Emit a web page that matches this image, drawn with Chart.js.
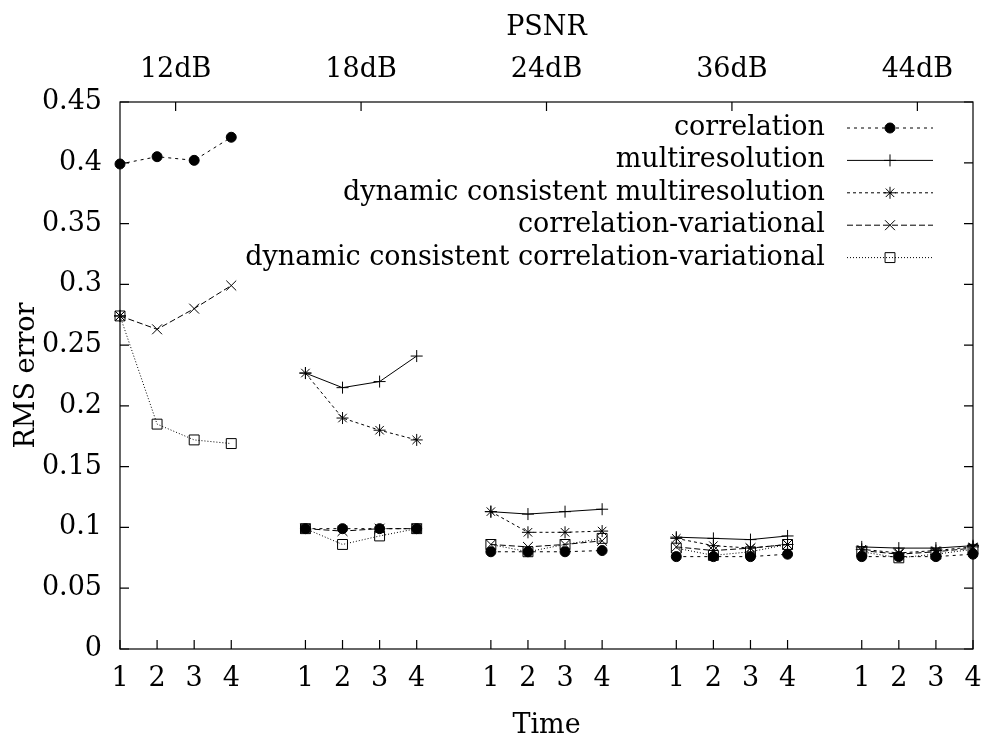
<!DOCTYPE html>
<html>
<head>
<meta charset="utf-8">
<script src="https://cdn.jsdelivr.net/npm/chart.js@4/dist/chart.umd.min.js"></script>
<style>
  html, body { margin: 0; padding: 0; background: #fff; }
  #wrap { width: 981px; height: 743px; }
</style>
</head>
<body>
<div id="wrap"><canvas id="chart" width="981" height="743"></canvas></div>
<script>
// values, one row per PSNR level, one entry per time step
const psnrLabels = ['12dB', '18dB', '24dB', '36dB', '44dB'];
const timeSteps = [1, 2, 3, 4];
const yTicks = [0, 0.05, 0.1, 0.15, 0.2, 0.25, 0.3, 0.35, 0.4, 0.45];

const correlation = [
    [0.399, 0.405, 0.402, 0.421],
    [0.099, 0.099, 0.099, 0.099],
    [0.080, 0.080, 0.080, 0.081],
    [0.076, 0.076, 0.076, 0.078],
    [0.076, 0.076, 0.076, 0.078]
];
const multiresolution = [
    [0.274, null, null, null],
    [0.227, 0.215, 0.220, 0.241],
    [0.113, 0.111, 0.113, 0.115],
    [0.092, 0.091, 0.090, 0.093],
    [0.084, 0.083, 0.083, 0.085]
];
const dynMultiresolution = [
    [0.274, null, null, null],
    [0.227, 0.190, 0.180, 0.172],
    [0.113, 0.096, 0.096, 0.097],
    [0.091, 0.085, 0.083, 0.086],
    [0.082, 0.079, 0.081, 0.084]
];
const corrVariational = [
    [0.274, 0.263, 0.280, 0.299],
    [0.099, 0.097, 0.099, 0.099],
    [0.086, 0.084, 0.086, 0.089],
    [0.084, 0.081, 0.083, 0.086],
    [0.081, 0.078, 0.080, 0.083]
];
const dynCorrVariational = [
    [0.274, 0.185, 0.172, 0.169],
    [0.099, 0.086, 0.093, 0.099],
    [0.086, 0.080, 0.086, 0.091],
    [0.083, 0.077, 0.080, 0.086],
    [0.080, 0.075, 0.078, 0.082]
];

// each PSNR group takes 5 units on the x axis: 4 time steps and one empty slot
const groupWidth = 5;
const timeTickValues = [];
psnrLabels.forEach((_, g) => timeSteps.forEach(t => timeTickValues.push(g * groupWidth + t)));
const psnrTickValues = psnrLabels.map((_, g) => g * groupWidth + 2.5);

function toPoints(rows) {
    const pts = [];
    rows.forEach((row, g) => {
        row.forEach((v, i) => pts.push({ x: g * groupWidth + timeSteps[i], y: v }));
        pts.push({ x: g * groupWidth + groupWidth, y: null });
    });
    return pts;
}

function series(label, rows, dash, style, radius, fill) {
    return {
        label: label,
        data: toPoints(rows),
        borderColor: '#000',
        borderWidth: 1,
        borderDash: dash,
        pointStyle: style,
        pointRadius: radius,
        pointHoverRadius: radius,
        pointBorderColor: '#000',
        pointBorderWidth: 1,
        pointBackgroundColor: fill,
        tension: 0,
        spanGaps: false,
        clip: false
    };
}

const datasets = [
    series('correlation', correlation, [3, 4], 'circle', 5, '#000'),
    series('multiresolution', multiresolution, [], 'cross', 6, '#000'),
    series('dynamic consistent multiresolution', dynMultiresolution, [3, 3], 'star', 6, '#000'),
    series('correlation-variational', corrVariational, [6, 3], 'crossRot', 7, '#000'),
    series('dynamic consistent correlation-variational', dynCorrVariational, [1, 2], 'rect', 7, 'rgba(0,0,0,0)')
];

// gnuplot style frame: border, inward ticks, key in the upper right
const framePlugin = {
    id: 'frame',
    afterDatasetsDraw(chart) {
        const { ctx, chartArea: a, scales } = chart;
        ctx.save();
        ctx.strokeStyle = '#000';
        ctx.lineWidth = 1.2;
        ctx.setLineDash([]);
        ctx.strokeRect(a.left, a.top, a.right - a.left, a.bottom - a.top);
        ctx.beginPath();
        scales.x.ticks.forEach(t => {
            const px = scales.x.getPixelForValue(t.value);
            ctx.moveTo(px, a.bottom);
            ctx.lineTo(px, a.bottom - 9);
        });
        scales.x2.ticks.forEach(t => {
            const px = scales.x2.getPixelForValue(t.value);
            ctx.moveTo(px, a.top);
            ctx.lineTo(px, a.top + 9);
        });
        scales.y.ticks.forEach(t => {
            const py = scales.y.getPixelForValue(t.value);
            ctx.moveTo(a.left, py);
            ctx.lineTo(a.left + 9, py);
            ctx.moveTo(a.right, py);
            ctx.lineTo(a.right - 9, py);
        });
        ctx.stroke();

        const textRight = a.right - 148;
        const lineStart = a.right - 126;
        const lineEnd = a.right - 40;
        const mid = (lineStart + lineEnd) / 2;
        ctx.font = Chart.defaults.font.size + 'px ' + Chart.defaults.font.family;
        ctx.fillStyle = '#000';
        ctx.textAlign = 'right';
        ctx.textBaseline = 'middle';
        chart.data.datasets.forEach((ds, i) => {
            const y = a.top + 26 + i * 32.4;
            ctx.fillText(ds.label, textRight, y);
            ctx.save();
            ctx.lineWidth = ds.borderWidth;
            ctx.setLineDash(ds.borderDash);
            ctx.beginPath();
            ctx.moveTo(lineStart, y);
            ctx.lineTo(lineEnd, y);
            ctx.stroke();
            ctx.setLineDash([]);
            ctx.fillStyle = ds.pointBackgroundColor;
            ctx.strokeStyle = ds.pointBorderColor;
            ctx.lineWidth = ds.pointBorderWidth;
            Chart.helpers.drawPoint(ctx, {
                pointStyle: ds.pointStyle,
                radius: ds.pointRadius,
                rotation: 0,
                borderWidth: ds.pointBorderWidth
            }, mid, y);
            ctx.restore();
        });
        ctx.restore();
    }
};

Chart.defaults.font.family = "'DejaVu Serif', serif";
Chart.defaults.font.size = 27;
Chart.defaults.color = '#000';

new Chart(document.getElementById('chart'), {
    type: 'line',
    data: { datasets: datasets },
    options: {
        responsive: false,
        animation: false,
        events: [],
        layout: { padding: { left: 0, right: 8, top: 0, bottom: 0 } },
        plugins: {
            legend: { display: false },
            tooltip: { enabled: false }
        },
        scales: {
            x: {
                type: 'linear',
                position: 'bottom',
                min: 1,
                max: 24,
                afterBuildTicks: (scale) => { scale.ticks = timeTickValues.map(v => ({ value: v })); },
                afterFit: (scale) => { scale.height = 94; scale.paddingLeft = 0; scale.paddingRight = 0; },
                ticks: {
                    autoSkip: false,
                    maxRotation: 0,
                    padding: 14,
                    callback: (v) => String(timeSteps[(v - 1) % groupWidth])
                },
                grid: { display: false, drawTicks: false },
                border: { display: false },
                title: { display: true, text: 'Time', padding: { top: 0, bottom: 1 } }
            },
            x2: {
                type: 'linear',
                position: 'top',
                min: 1,
                max: 24,
                afterBuildTicks: (scale) => { scale.ticks = psnrTickValues.map(v => ({ value: v })); },
                afterFit: (scale) => { scale.height = 102; scale.paddingLeft = 0; scale.paddingRight = 0; },
                ticks: {
                    autoSkip: false,
                    maxRotation: 0,
                    padding: 16,
                    callback: (v) => psnrLabels[psnrTickValues.indexOf(v)]
                },
                grid: { display: false, drawTicks: false },
                border: { display: false },
                title: { display: true, text: 'PSNR', padding: { top: 12, bottom: 0 } }
            },
            y: {
                type: 'linear',
                position: 'left',
                min: 0,
                max: 0.45,
                afterBuildTicks: (scale) => { scale.ticks = yTicks.map(v => ({ value: v })); },
                afterFit: (scale) => { scale.width = 120; },
                ticks: {
                    padding: 18,
                    callback: (v) => String(+v.toFixed(2))
                },
                grid: { display: false, drawTicks: false },
                border: { display: false },
                title: { display: true, text: 'RMS error', padding: { top: 11, bottom: 0 } }
            }
        }
    },
    plugins: [framePlugin]
});
</script>
</body>
</html>
